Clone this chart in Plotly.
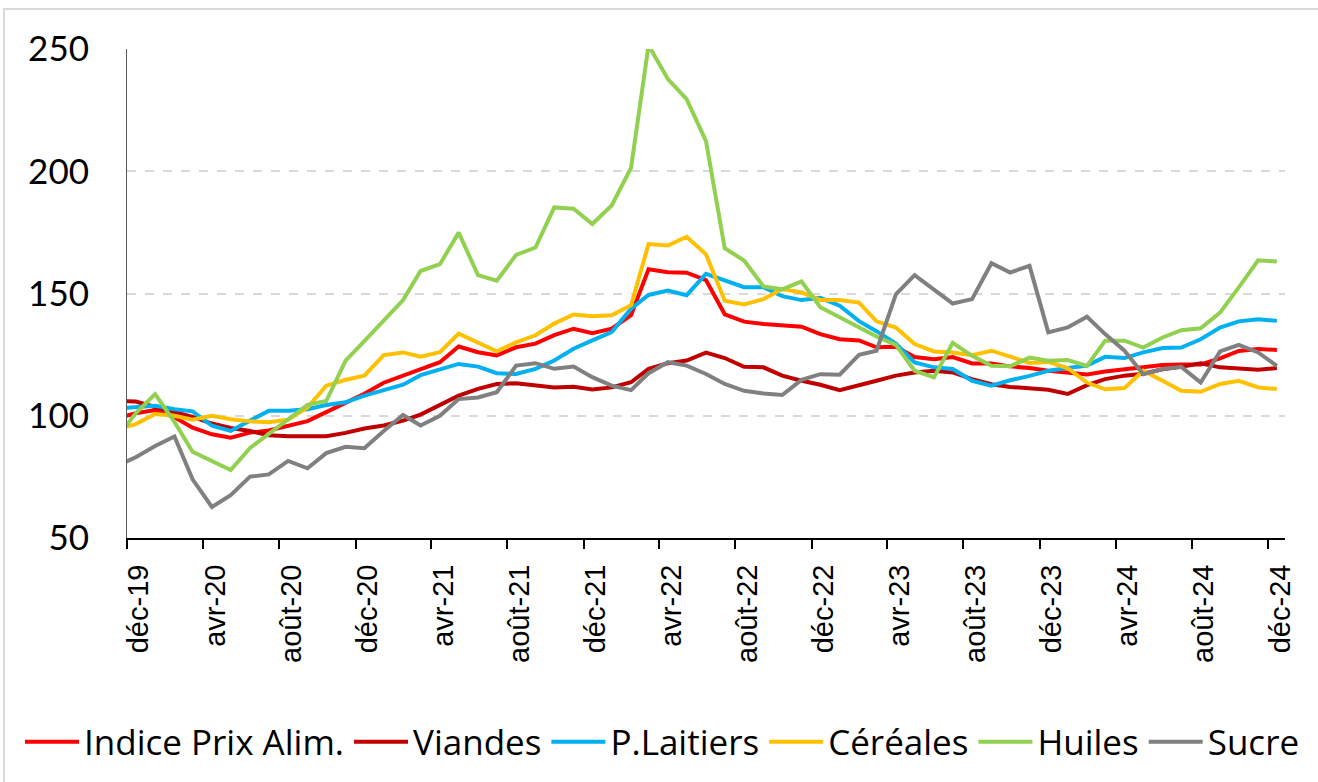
import pandas as pd
import plotly.graph_objects as go

# Monthly observations, nov-19 .. déc-24 (nov-19 only feeds the clipped first segment)
months = pd.date_range("2019-11-01", "2024-12-01", freq="MS") + pd.Timedelta(days=14)

indice = [99.0, 101.0,
          102.3, 99.4, 95.1, 92.4, 91.0, 93.1, 94.0, 95.9, 97.8, 101.5, 105.5, 109.0,
          113.5, 116.5, 119.2, 121.9, 128.3, 126.0, 124.7, 128.0, 129.5, 133.0, 135.6, 133.8,
          135.6, 141.1, 159.9, 158.7, 158.5, 155.5, 141.5, 138.5, 137.5, 136.8, 136.4, 133.4,
          131.3, 130.8, 128.0, 128.2, 124.0, 123.1, 124.0, 121.4, 121.4, 120.2, 119.5, 118.4,
          117.5, 116.9, 118.1, 119.1, 120.0, 120.8, 121.0, 121.0, 123.5, 126.5, 127.3, 126.9]

viandes = [106.0, 105.8,
           103.6, 101.6, 99.5, 96.8, 95.0, 93.8, 92.0, 91.6, 91.6, 91.6, 93.0, 94.8,
           96.0, 98.0, 100.5, 104.3, 108.2, 111.0, 113.0, 113.3, 112.3, 111.6, 111.9, 110.7,
           111.6, 113.7, 119.2, 121.5, 122.6, 125.8, 123.6, 120.0, 119.8, 116.4, 114.3, 112.7,
           110.5, 112.3, 114.3, 116.4, 117.7, 118.4, 117.7, 115.0, 112.9, 111.8, 111.0, 110.6,
           108.9, 112.5, 115.0, 116.4, 117.2, 119.0, 120.0, 121.5, 119.8, 119.3, 118.8, 119.5]

laitiers = [103.0, 103.4,
            104.1, 102.7, 101.8, 95.9, 93.8, 98.0, 102.0, 102.0, 102.7, 104.4, 105.5, 108.2,
            110.6, 112.7, 116.6, 119.0, 121.2, 120.1, 117.4, 117.1, 119.2, 122.6, 127.4, 130.8,
            134.2, 143.8, 149.4, 151.2, 149.3, 158.0, 155.2, 152.6, 152.6, 148.9, 147.3, 148.2,
            145.0, 138.7, 134.6, 129.5, 121.8, 119.8, 119.1, 114.3, 112.3, 114.5, 116.3, 118.4,
            119.5, 120.5, 124.1, 123.6, 125.9, 127.7, 127.9, 131.3, 136.1, 138.6, 139.5, 138.8]

cereales = [94.5, 96.6,
            100.7, 100.0, 98.4, 100.0, 98.6, 97.7, 97.3, 98.4, 103.4, 112.3, 114.7, 116.4,
            124.8, 125.9, 124.2, 126.0, 133.6, 130.1, 126.4, 130.0, 132.9, 137.7, 141.4, 140.7,
            141.1, 145.2, 170.2, 169.6, 173.2, 166.0, 147.0, 145.5, 147.7, 151.8, 150.4, 147.3,
            147.3, 146.3, 138.6, 136.1, 129.3, 126.3, 125.9, 124.8, 126.6, 124.2, 121.6, 122.0,
            119.5, 113.6, 110.8, 111.3, 118.4, 114.3, 110.2, 109.8, 113.0, 114.3, 111.6, 110.9]

huiles = [91.0, 101.0,
          108.9, 97.5, 85.3, 81.5, 77.8, 86.8, 92.5, 98.6, 104.5, 106.0, 122.5, 130.5,
          138.9, 147.3, 159.2, 162.0, 174.9, 157.5, 155.2, 165.8, 168.8, 185.2, 184.7, 178.4,
          186.0, 201.4, 251.5, 237.7, 229.5, 212.3, 168.5, 163.5, 152.9, 151.7, 154.9, 144.4,
          140.3, 136.2, 132.4, 129.0, 118.4, 115.7, 129.8, 124.5, 120.4, 120.2, 123.8, 122.5,
          122.8, 120.4, 130.7, 130.7, 127.9, 132.0, 135.0, 135.8, 142.2, 152.5, 163.6, 163.1]

sucre = [79.5, 83.0,
         87.6, 91.5, 74.0, 62.7, 67.5, 75.1, 76.0, 81.5, 78.5, 84.7, 87.3, 86.7,
         93.8, 100.3, 96.0, 100.0, 106.8, 107.5, 109.6, 120.5, 121.5, 119.2, 120.1, 115.8,
         112.3, 110.5, 117.4, 121.9, 120.5, 117.1, 113.0, 110.2, 109.1, 108.5, 114.7, 117.0,
         116.8, 124.9, 126.6, 149.7, 157.5, 151.8, 145.9, 147.7, 162.4, 158.6, 161.3, 134.1,
         136.1, 140.5, 133.4, 126.6, 117.0, 119.1, 120.0, 113.6, 126.3, 129.0, 125.9, 120.4]

series_names = ["Indice Prix Alim.", "Viandes", "P.Laitiers", "Céréales", "Huiles", "Sucre"]
series_values = [indice, viandes, laitiers, cereales, huiles, sucre]
series_colors = ["#FF0000", "#C00000", "#00B0F0", "#FFC000", "#92D050", "#808080"]

tick_labels = ["déc-19", "avr-20", "août-20", "déc-20", "avr-21", "août-21", "déc-21",
               "avr-22", "août-22", "déc-22", "avr-23", "août-23", "déc-23", "avr-24",
               "août-24", "déc-24"]
tick_dates = pd.date_range("2019-12-01", "2024-12-01", freq="4MS")

fig = go.Figure()
for name, vals, col in zip(series_names, series_values, series_colors):
    fig.add_trace(go.Scatter(x=months, y=vals, name=name, mode="lines",
                             line=dict(color=col, width=4)))

W, H = 1318, 782
L, R, T, B = 127, 1285, 49, 538

fig.update_layout(
    width=W, height=H,
    margin=dict(l=L, r=W - R, t=T, b=H - B, pad=0, autoexpand=False),
    paper_bgcolor="white", plot_bgcolor="white",
    showlegend=True,
    legend=dict(orientation="h", x=(20 - L) / (R - L), xanchor="left",
                y=-(742 - B) / (B - T), yanchor="middle",
                font=dict(family="Open Sans", size=35, color="black"),
                itemwidth=54, tracegroupgap=0, bgcolor="rgba(0,0,0,0)"),
    xaxis=dict(type="date", range=["2019-12-01", "2024-12-28"],
               tickmode="array", tickvals=tick_dates, ticktext=tick_labels,
               tickangle=-90, ticks="outside", ticklen=9, tickwidth=2, tickcolor="black",
               showline=True, linecolor="black", linewidth=2,
               showgrid=False, zeroline=False,
               tickfont=dict(family="Liberation Sans", size=29, color="black"),
               ticklabelstandoff=4, ticklabelshift=12),
    yaxis=dict(range=[50, 250], tickmode="array", tickvals=[50, 100, 150, 200, 250],
               showline=True, linecolor="#595959", linewidth=1,
               showgrid=True, gridcolor="#D9D9D9", gridwidth=2, griddash="dash",
               zeroline=False, ticks="",
               tickfont=dict(family="Lato", size=35, color="black"),
               ticklabelstandoff=30),
)

# outer chart frame (light gray border)
fig.add_shape(type="rect", xref="paper", yref="paper",
              x0=(4 - L) / (R - L), x1=(1322 - L) / (R - L),
              y0=(B - 790) / (B - T), y1=(B - 9) / (B - T),
              line=dict(color="#D9D9D9", width=2), fillcolor="rgba(0,0,0,0)", layer="below")

fig.write_html("out.html", config={"displayModeBar": False},
               post_script="document.body.style.margin='0px';document.body.style.overflow='hidden';")
